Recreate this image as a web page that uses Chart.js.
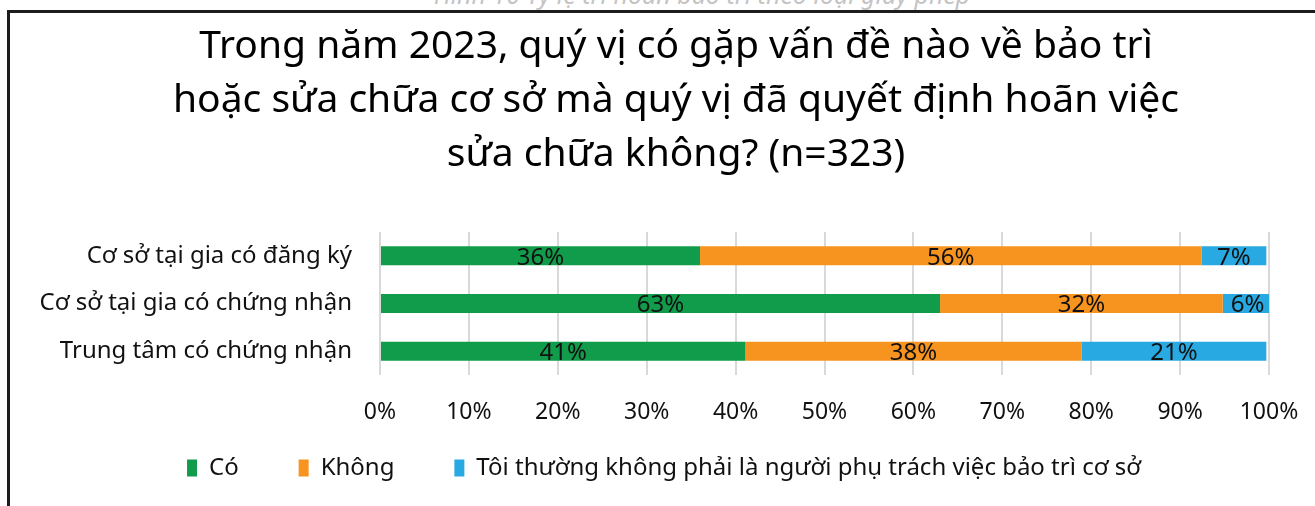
<!DOCTYPE html>
<html lang="vi">
<head>
<meta charset="utf-8">
<script src="https://cdn.jsdelivr.net/npm/chart.js@4"></script>
<style>
  html, body { margin:0; padding:0; background:#fff; overflow:hidden; }
  body { width:1315px; height:506px; position:relative; font-family:"Noto Sans", sans-serif; }
  #caption {
    position:absolute; left:0; width:1404px; top:-19px; text-align:center;
    font-style:italic; font-size:25px; line-height:26px; color:#c4c4c4;
  }
  #frame {
    position:absolute; left:7px; top:10px; width:1400px; height:600px;
    border-left:3px solid #1c1c1c; border-top:3px solid #1c1c1c; pointer-events:none;
  }
  #wrap { position:absolute; left:0; top:0; width:1315px; height:506px; }
</style>
</head>
<body>
<div id="caption">Hình 10 Tỷ lệ trì hoãn bảo trì theo loại giấy phép</div>
<div id="wrap"><canvas id="chart"></canvas></div>
<div id="frame"></div>
<script>
// ─── Data ─────────────────────────────────────────────────────────────
const categories = ["Cơ sở tại gia có đăng ký", "Cơ sở tại gia có chứng nhận", "Trung tâm có chứng nhận"];
const coValues          = [36.0, 63.0, 41.1];
const khongValues       = [56.4, 31.8, 37.8];
const khongPhuTrachVals = [7.3, 5.6, 20.8];
const seriesLabels = ["Có", "Không", "Tôi thường không phải là người phụ trách việc bảo trì cơ sở"];
const titleLines = [
  "Trong năm 2023, quý vị có gặp vấn đề nào về bảo trì",
  "hoặc sửa chữa cơ sở mà quý vị đã quyết định hoãn việc",
  "sửa chữa không? (n=323)"
];

const FONT = "'Noto Sans', sans-serif";
const TITLE_SHIFT = 37;   // title sits centred over the plot, not the canvas
const LEGEND_SHIFT = 25;

// draws the rounded % inside each bar segment
const barLabels = {
  id: "barLabels",
  afterDatasetsDraw(chart) {
    const ctx = chart.ctx;
    ctx.save();
    ctx.font = "24px " + FONT;
    ctx.fillStyle = "#111";
    ctx.textAlign = "center";
    ctx.textBaseline = "middle";
    chart.data.datasets.forEach((ds, i) => {
      chart.getDatasetMeta(i).data.forEach((el, j) => {
        const cx = (el.x + el.base) / 2;
        ctx.fillText(Math.round(ds.data[j]) + "%", cx, el.y + 2);
      });
    });
    ctx.restore();
  }
};

const shiftBlocks = {
  id: "shiftBlocks",
  afterLayout(chart) {
    if (chart.titleBlock) { chart.titleBlock.left += TITLE_SHIFT; chart.titleBlock.right += TITLE_SHIFT; }
    if (chart.legend) { chart.legend.left += LEGEND_SHIFT; chart.legend.right += LEGEND_SHIFT; }
  }
};

new Chart(document.getElementById("chart"), {
  type: "bar",
  data: {
    labels: categories,
    datasets: [
      { label: seriesLabels[0], data: coValues,          backgroundColor: "#109c4a" },
      { label: seriesLabels[1], data: khongValues,       backgroundColor: "#f7941f" },
      { label: seriesLabels[2], data: khongPhuTrachVals, backgroundColor: "#29a9e1" }
    ]
  },
  options: {
    indexAxis: "y",
    responsive: true,
    maintainAspectRatio: false,
    animation: false,
    barPercentage: 0.4,
    categoryPercentage: 1,
    layout: { padding: { left: 0, right: 37, top: 0, bottom: 16 } },
    plugins: {
      title: {
        display: true,
        text: titleLines,
        color: "#000",
        font: { family: FONT, size: 39, weight: "normal", lineHeight: 54 / 39 },
        padding: { top: 20, bottom: 50 }
      },
      legend: {
        position: "bottom",
        labels: {
          color: "#111",
          font: { family: FONT, size: 24 },
          boxWidth: 10, boxHeight: 17,
          padding: 10,
          // wide gaps between entries, without the tall vertical padding
          generateLabels: chart => Chart.defaults.plugins.legend.labels.generateLabels(chart)
            .map((item, i, all) => {
              if (i < all.length - 1) item.text = item.text + "        ";
              return item;
            })
        }
      },
      tooltip: { enabled: false }
    },
    scales: {
      x: {
        stacked: true,
        min: 0, max: 100,
        ticks: { stepSize: 10, color: "#111", font: { family: FONT, size: 23 }, padding: 24,
                 callback: v => v + "%" },
        grid: { color: "#d9d9d9", lineWidth: 2, drawTicks: false },
        border: { display: false },
        afterFit: s => { s.height = 71; s.paddingRight = 46; }
      },
      y: {
        stacked: true,
        ticks: { color: "#111", font: { family: FONT, size: 24 }, padding: 28 },
        grid: { display: false, drawTicks: false },
        border: { display: false },
        afterFit: s => { s.width = 380; }
      }
    }
  },
  plugins: [barLabels, shiftBlocks]
});
</script>
</body>
</html>
